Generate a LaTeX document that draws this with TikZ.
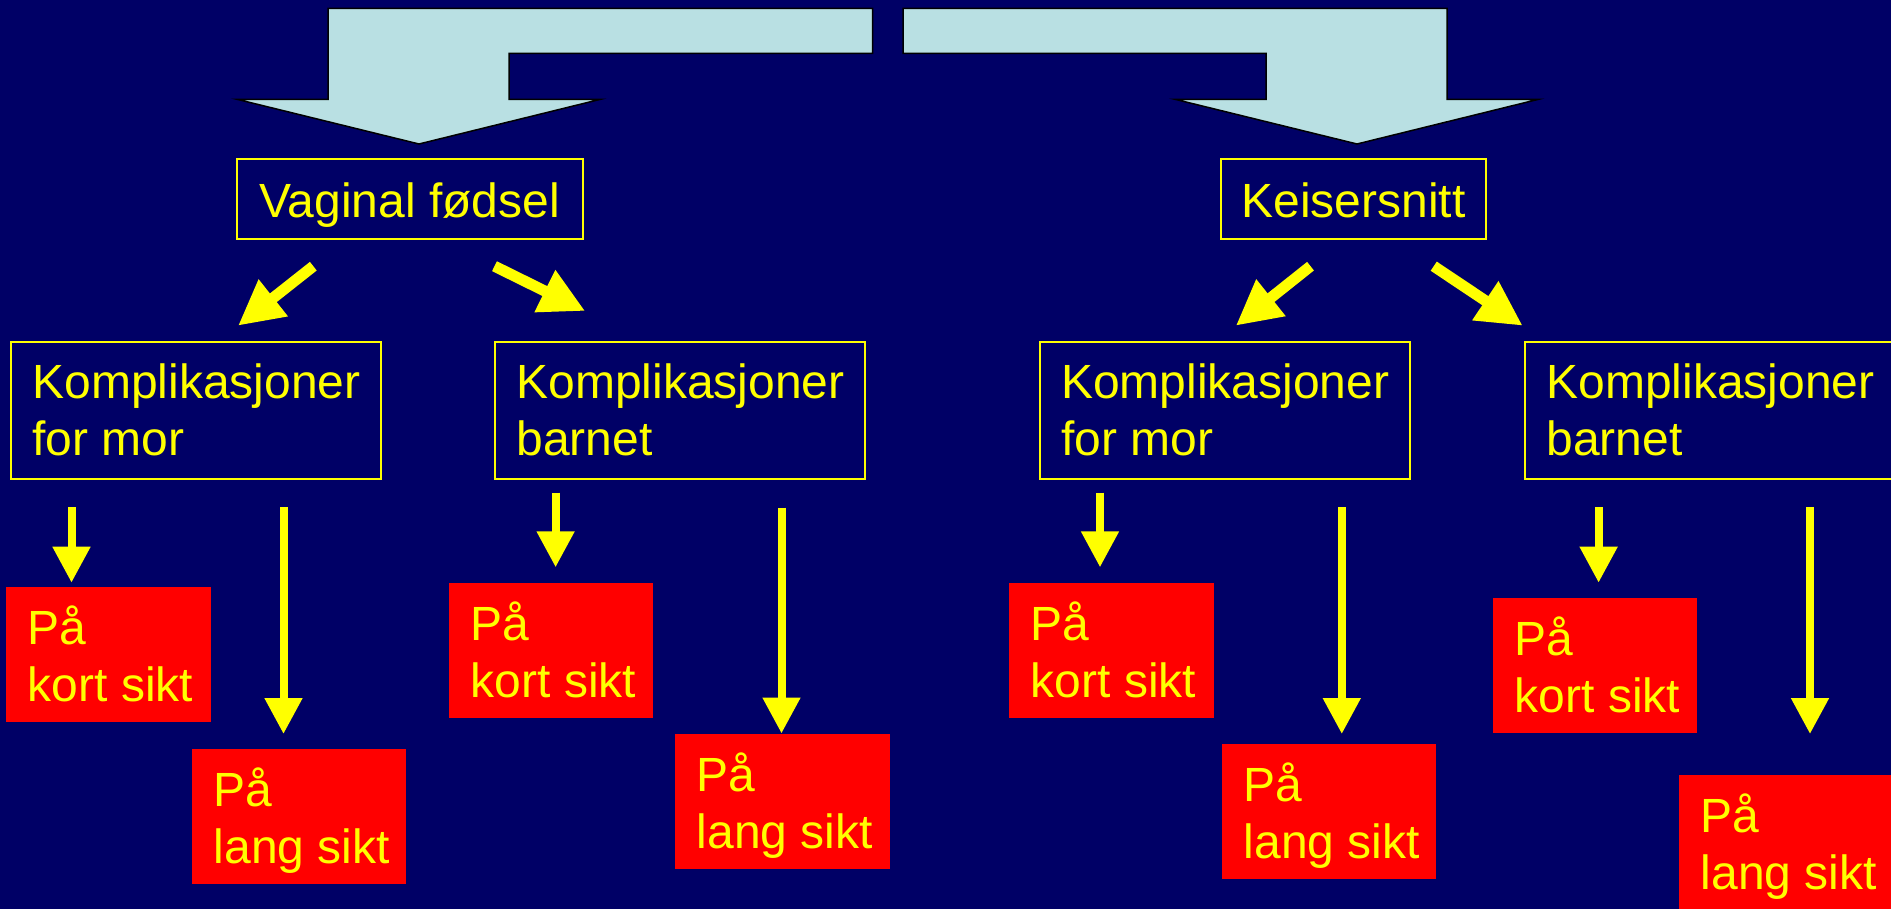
\documentclass[tikz,border=0pt]{standalone}
\usepackage{fontspec}
\setmainfont{Liberation Sans}
\usetikzlibrary{arrows.meta}
\definecolor{navy}{RGB}{0,0,102}
\definecolor{lblue}{RGB}{185,224,227}
\definecolor{yel}{RGB}{255,255,0}
\definecolor{rd}{RGB}{255,0,0}
\newcommand{\twoline}[3]{\vtop{\hbox to #1{#2\hss}\hbox to #1{#3\hss}}}
\begin{document}
\begin{tikzpicture}[x=1pt,y=-1pt,
  every node/.style={font=\fontsize{48}{57}\selectfont, text=yel},
  topbox/.style={draw=yel, line width=2pt, inner sep=0pt, minimum height=80pt, text height=40pt, text depth=3pt},
  kbox/.style={draw=yel, line width=2pt, anchor=north west, inner xsep=21.5pt, inner ysep=0pt, text height=57pt, text depth=80pt},
  rbox/.style={fill=rd, anchor=north west, inner xsep=21.5pt, inner ysep=0pt, text height=57pt, text depth=78pt},
  bigarrow/.style={fill=lblue, draw=black, line width=1.5pt, line join=miter},
  varrow/.style={draw=yel, line width=8pt, -{Triangle[width=36pt,length=36pt]}},
  darrow/.style={draw=yel, line width=11pt, -{Triangle[width=44pt,length=45pt]}},
]
\useasboundingbox (0,0) rectangle (1891,909);
\clip (0,0) rectangle (1891,909);
\fill[navy] (0,0) rectangle (1891,909);

% big top arrows
\path[bigarrow] (872.5,8.5) -- (328,8.5) -- (328,99.3) -- (237,99.3) -- (419,144)
  -- (600.5,99.3) -- (509,99.3) -- (509,53.3) -- (872.5,53.3) -- cycle;
\path[bigarrow] (903,8.5) -- (1447,8.5) -- (1447,99.3) -- (1538.5,99.3) -- (1357,144)
  -- (1175,99.3) -- (1266,99.3) -- (1266,53.3) -- (903,53.3) -- cycle;

% top boxes
\node[topbox, minimum width=345.5pt] (vag) at (409.75,199) {Vaginal fødsel};
\node[topbox, minimum width=265pt] (keis) at (1353.5,199) {Keisersnitt};

% complication boxes
\node[kbox] (kvm) at (10,341) {\twoline{327pt}{Komplikasjoner}{for mor}};
\node[kbox] (kvb) at (494,341) {\twoline{326.5pt}{Komplikasjoner}{barnet}};
\node[kbox] (kkm) at (1038.6,341) {\twoline{327.5pt}{Komplikasjoner}{for mor}};
\node[kbox] (kkb) at (1524,341) {\twoline{327pt}{Komplikasjoner}{barnet}};

% red boxes
\node[rbox] (r1) at (6,587) {\twoline{162pt}{På}{kort sikt}};
\node[rbox] (r2) at (192,749) {\twoline{171pt}{På}{lang sikt}};
\node[rbox] (r3) at (449,583) {\twoline{160.5pt}{På}{kort sikt}};
\node[rbox] (r4) at (675,734) {\twoline{172pt}{På}{lang sikt}};
\node[rbox] (r5) at (1009,583) {\twoline{162pt}{På}{kort sikt}};
\node[rbox] (r6) at (1222,744) {\twoline{171pt}{På}{lang sikt}};
\node[rbox] (r7) at (1493,598) {\twoline{161pt}{På}{kort sikt}};
\node[rbox] (r8) at (1679,775) {\twoline{171pt}{På}{lang sikt}};

% diagonal arrows
\coordinate (d1s) at (313.3,266.2); \coordinate (d1e) at (238,325.7);
\coordinate (d2s) at (494.5,266.2); \coordinate (d2e) at (585.2,311);
\coordinate (d3s) at (1310.5,266.2); \coordinate (d3e) at (1235.8,325.7);
\coordinate (d4s) at (1433.75,266.2); \coordinate (d4e) at (1522.7,325.7);
\draw[darrow] (d1s) -- (d1e);
\draw[darrow] (d2s) -- (d2e);
\draw[darrow] (d3s) -- (d3e);
\draw[darrow] (d4s) -- (d4e);

% vertical arrows
\coordinate (a1s) at (71.5,507.3); \coordinate (a1e) at (71.5,582.7);
\coordinate (a2s) at (283.5,507.3); \coordinate (a2e) at (283.5,734);
\coordinate (a3s) at (555.6,492.7); \coordinate (a3e) at (555.6,567.3);
\coordinate (a4s) at (781.5,507.5); \coordinate (a4e) at (781.5,733.5);
\coordinate (a5s) at (1100,492.7); \coordinate (a5e) at (1100,567.3);
\coordinate (a6s) at (1341.8,507.3); \coordinate (a6e) at (1341.8,734);
\coordinate (a7s) at (1598.6,507.3); \coordinate (a7e) at (1598.6,582.7);
\coordinate (a8s) at (1810,507.3); \coordinate (a8e) at (1810,734);
\foreach \i in {1,...,8} { \draw[varrow] (a\i s) -- (a\i e); }
\end{tikzpicture}
\end{document}
